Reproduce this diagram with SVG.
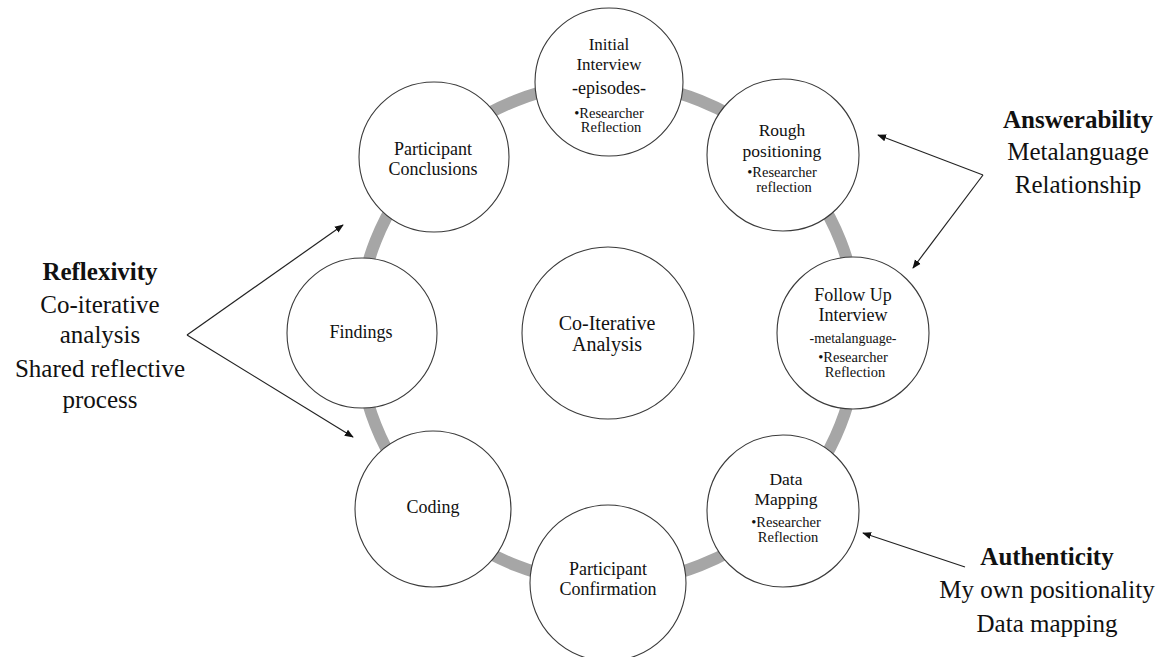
<svg xmlns="http://www.w3.org/2000/svg" width="1169" height="657" viewBox="0 0 1169 657">
<style>
.node{fill:#fff;stroke:#3a3a3a;stroke-width:1.1}
.t{font-family:"Liberation Serif","Times New Roman",serif;fill:#111;text-anchor:middle}
.m{font-size:18px}
.s{font-size:14.5px}
.lab{font-size:25px}
.b{font-weight:bold}
.arr{stroke:#222;stroke-width:1.2;fill:none;marker-end:url(#ah)}
</style>
<defs>
<marker id="ah" viewBox="0 0 10 10" refX="9" refY="5" markerWidth="9" markerHeight="9" markerUnits="userSpaceOnUse" orient="auto">
<path d="M0,1 L10,5 L0,9 z" fill="#111"/>
</marker>
</defs>
<g id="connectors">
<circle cx="608" cy="333" r="250" fill="none" stroke="#A6A6A6" stroke-width="12"/>
<path class="arr" d="M983,175 L878,135"/>
<path class="arr" d="M983,175 L913,268"/>
<path class="arr" d="M965,567 L863,533"/>
<path class="arr" d="M187,335 L343,225"/>
<path class="arr" d="M187,335 L353,437"/>
</g>
<g id="center">
<circle class="node" cx="608" cy="333" r="86"/>
<text class="t" style="font-size:20px" x="607" y="330">Co-Iterative</text>
<text class="t" style="font-size:20px" x="607" y="351">Analysis</text>
</g>
<g id="initial-interview">
<circle class="node" cx="609" cy="82" r="74"/>
<text class="t" style="font-size:17px" x="609" y="50">Initial</text>
<text class="t" style="font-size:17px" x="609" y="70">Interview</text>
<text class="t" style="font-size:18px" x="609" y="94">-episodes-</text>
<text class="t s" x="609" y="118">•Researcher</text>
<text class="t s" x="611" y="132">Reflection</text>
</g>
<g id="rough-positioning">
<circle class="node" cx="783" cy="155" r="76"/>
<text class="t" style="font-size:17.5px" x="782" y="136">Rough</text>
<text class="t" style="font-size:17.5px" x="782" y="157">positioning</text>
<text class="t s" x="782" y="177">•Researcher</text>
<text class="t s" x="784" y="192">reflection</text>
</g>
<g id="follow-up-interview">
<circle class="node" cx="853" cy="333" r="76"/>
<text class="t m" x="853" y="301">Follow Up</text>
<text class="t m" x="853" y="321">Interview</text>
<text class="t" style="font-size:14px" x="853" y="343">-metalanguage-</text>
<text class="t s" x="853" y="362">•Researcher</text>
<text class="t s" x="855" y="377">Reflection</text>
</g>
<g id="data-mapping">
<circle class="node" cx="783" cy="511" r="76"/>
<text class="t" style="font-size:17.5px" x="786" y="485">Data</text>
<text class="t" style="font-size:17.5px" x="786" y="505">Mapping</text>
<text class="t s" x="786" y="527">•Researcher</text>
<text class="t s" x="788" y="542">Reflection</text>
</g>
<g id="participant-confirmation">
<circle class="node" cx="608" cy="583" r="78"/>
<text class="t m" x="608" y="575">Participant</text>
<text class="t m" x="608" y="595">Confirmation</text>
</g>
<g id="coding">
<circle class="node" cx="433" cy="509" r="78"/>
<text class="t m" x="433" y="513">Coding</text>
</g>
<g id="findings">
<circle class="node" cx="362" cy="333" r="75"/>
<text class="t m" x="361" y="338">Findings</text>
</g>
<g id="participant-conclusions">
<circle class="node" cx="434" cy="157" r="75"/>
<text class="t m" x="433" y="155">Participant</text>
<text class="t m" x="433" y="175">Conclusions</text>
</g>
<g id="answerability">
<text class="t lab b" x="1078" y="128">Answerability</text>
<text class="t lab" x="1078" y="160">Metalanguage</text>
<text class="t lab" x="1078" y="193">Relationship</text>
</g>
<g id="authenticity">
<text class="t lab b" x="1047" y="565">Authenticity</text>
<text class="t lab" x="1047" y="598">My own positionality</text>
<text class="t lab" x="1047" y="632">Data mapping</text>
</g>
<g id="reflexivity">
<text class="t lab b" x="100" y="280">Reflexivity</text>
<text class="t lab" x="100" y="313">Co-iterative</text>
<text class="t lab" x="100" y="343">analysis</text>
<text class="t lab" x="100" y="377">Shared reflective</text>
<text class="t lab" x="100" y="408">process</text>
</g>
</svg>
